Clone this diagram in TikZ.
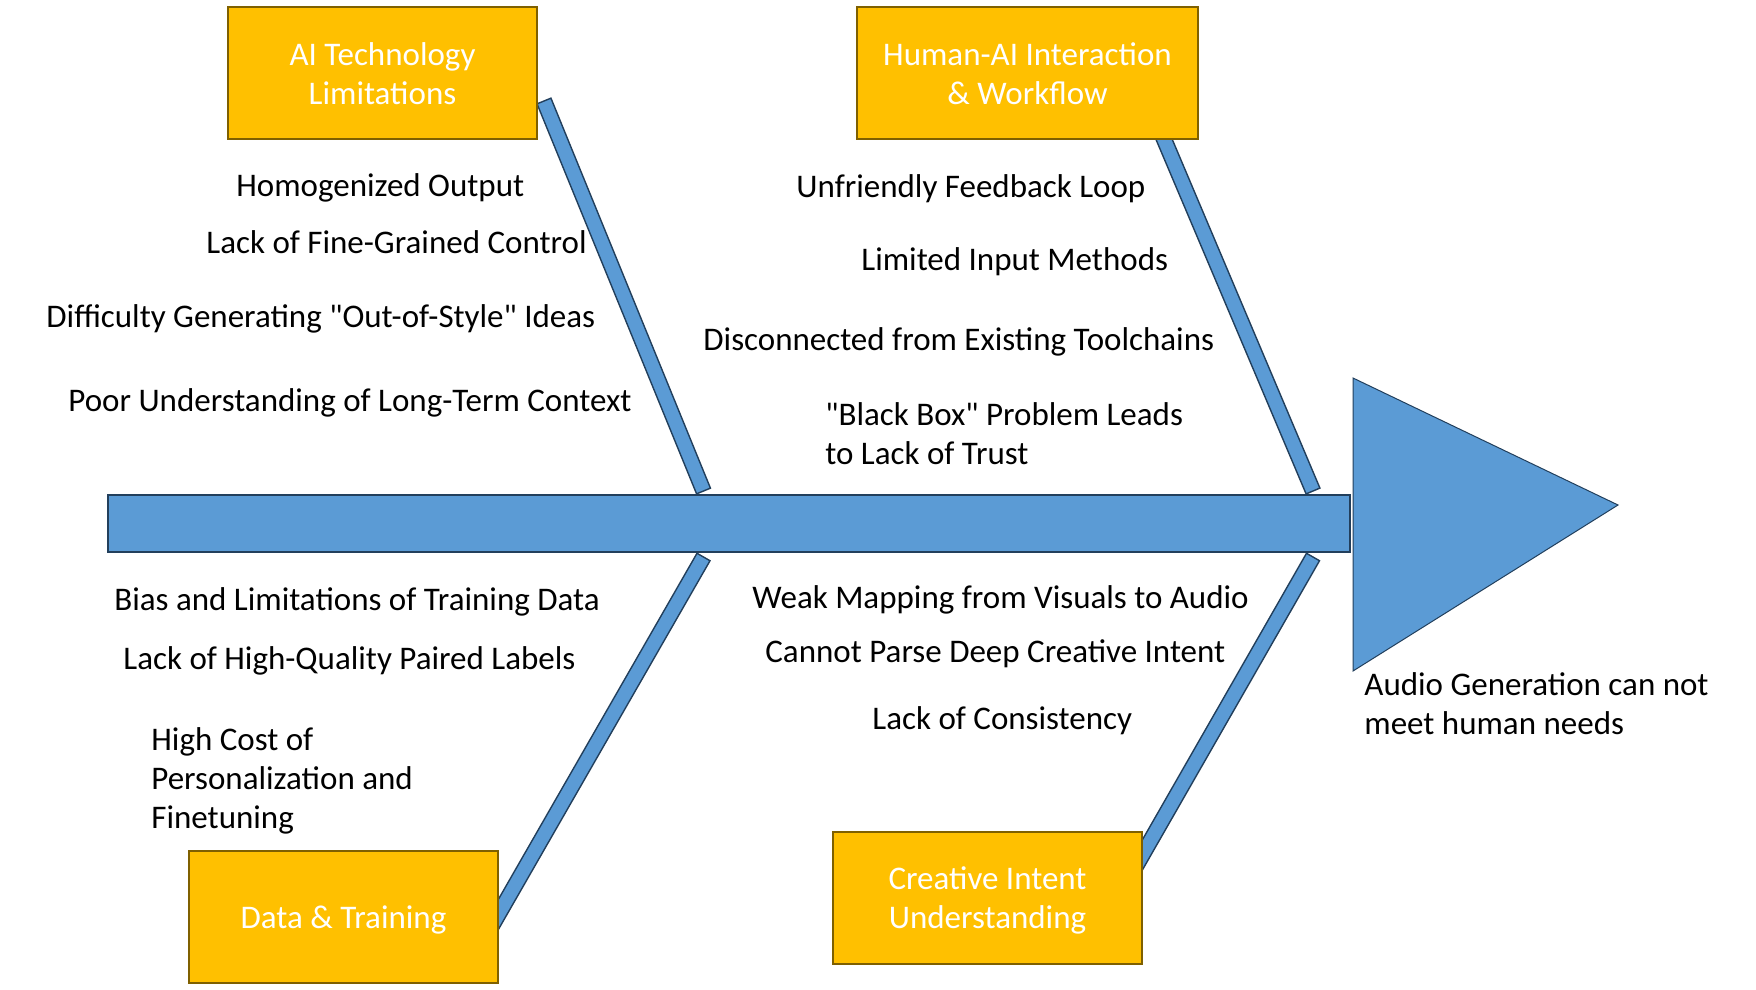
\documentclass[tikz,border=0pt]{standalone}
\usepackage{fontspec}
% plain family: keeps straight " quotes as typed
\newfontfamily\calfam{Carlito}
\usetikzlibrary{calc}

\definecolor{boneblue}{HTML}{5B9BD5}
\definecolor{boneedge}{HTML}{223F5C}
\definecolor{catfill}{HTML}{FFC000}
\definecolor{catedge}{HTML}{7F6000}

\newcommand\labelfont{\calfam\fontsize{16.5pt}{19.5pt}\selectfont}
\newcommand\bonehalf{3.75pt}
% fixed ascent on a first line, fixed descent on a last line
\newcommand\topstrut{\rule{0pt}{16pt}}
\newcommand\botstrut{\rule[-4.4pt]{0pt}{4.4pt}}

\tikzset{
  catbox/.style={draw=catedge, fill=catfill, line width=1pt, text=white,
    align=center, minimum height=66pt, inner sep=0pt, font=\labelfont},
  cause/.style={anchor=base west, inner sep=0pt, align=left,
    font=\labelfont, text=black},
  bone/.style={draw=boneedge, fill=boneblue, line width=0.7pt},
  spinebar/.style={draw=boneedge, fill=boneblue, line width=1pt,
    inner sep=0pt, minimum width=621pt, minimum height=28.5pt},
}

% a slanted rib of constant width between two points
\newcommand\rib[2]{%
  \draw[bone] ($(#1)!\bonehalf!90:(#2)$) -- ($(#1)!\bonehalf!-90:(#2)$)
    -- ($(#2)!\bonehalf!90:(#1)$) -- ($(#2)!\bonehalf!-90:(#1)$) -- cycle;}

\begin{document}
\begin{tikzpicture}[x=0.5pt,y=-0.5pt]
\useasboundingbox (0,0) rectangle (1756,990);

% rib end points
\coordinate (r1a) at (544,101);
\coordinate (r1b) at (703.5,491);
\coordinate (r2a) at (1158,125);
\coordinate (r2b) at (1313,491);
\coordinate (r3a) at (703.5,557);
\coordinate (r3b) at (490,929);
\coordinate (r4a) at (1313,557);
\coordinate (r4b) at (1136,866);

% ribs
\rib{r1a}{r1b}
\rib{r2a}{r2b}
\rib{r3a}{r3b}
\rib{r4a}{r4b}

% spine and head
\node[spinebar] (spine) at (729,523.5) {};
\coordinate (headtop) at (1353,378);
\coordinate (headbot) at (1353,671);
\coordinate (headtip) at (1618,505);
\draw[draw=boneedge, fill=boneblue, line width=0.5pt, line join=miter]
  (headtop) -- (headbot) -- (headtip) -- cycle;

% category boxes
\node[catbox, minimum width=154.5pt] (tech) at (382.5,73)
  {\topstrut AI Technology\\Limitations\botstrut};
\node[catbox, minimum width=170.5pt] (hai) at (1027.5,73)
  {\topstrut Human-AI Interaction\\\& Workflow\botstrut};
\node[catbox, minimum width=154.5pt] (data) at (343.5,916.5)
  {\topstrut Data \& Training\botstrut};
\node[catbox, minimum width=154.5pt] (intent) at (987.5,897.5)
  {\topstrut Creative Intent\\Understanding\botstrut};

% causes: AI technology
\node[cause] (t1) at (236,196) {Homogenized Output};
\node[cause] (t2) at (206,253) {Lack of Fine-Grained Control};
\node[cause] (t3) at (46,327) {Difficulty Generating "Out-of-Style" Ideas};
\node[cause] (t4) at (68,411) {Poor Understanding of Long-Term Context};

% causes: interaction and workflow
\node[cause] (h1) at (796,198) {Unfriendly Feedback Loop};
\node[cause] (h2) at (861,270) {Limited Input Methods};
\node[cause] (h3) at (703,350) {Disconnected from Existing Toolchains};
\node[cause] (h4) at (825,464) {"Black Box" Problem Leads\\to Lack of Trust};

% causes: data and training
\node[cause] (d1) at (114,610) {Bias and Limitations of Training Data};
\node[cause] (d2) at (123,669) {Lack of High-Quality Paired Labels};
\node[cause] (d3) at (151,828) {High Cost of\\Personalization and\\Finetuning};

% causes: creative intent
\node[cause] (c1) at (752,608) {Weak Mapping from Visuals to Audio};
\node[cause] (c2) at (765,662) {Cannot Parse Deep Creative Intent};
\node[cause] (c3) at (872,729) {Lack of Consistency};

% effect
\node[cause] (effect) at (1364,734) {Audio Generation can not\\meet human needs};
\end{tikzpicture}
\end{document}
